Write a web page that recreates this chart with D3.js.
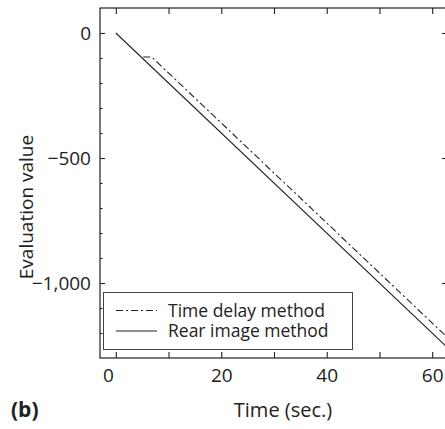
<!DOCTYPE html>
<html>
<head>
<meta charset="utf-8">
<script src="https://cdn.jsdelivr.net/npm/d3@7"></script>
<style>
  body { margin: 0; background: #fff; }
  svg text { font-family: "Open Sans", "Noto Sans", sans-serif; fill: #222; }
</style>
</head>
<body>
<div id="chart"></div>
<script>
// series: [time (sec.), evaluation value]
const timeDelay = [[5.2, -96], [6.8, -96], [63, -1220]];
const rearImage = [[0, 0], [63, -1260]];

const xTicks = [0, 10, 20, 30, 40, 50, 60];
const xLabels = [0, 20, 40, 60];
const yMajor = [0, -500, -1000];
const yMinor = [-100, -200, -300, -400, -600, -700, -800, -900, -1100, -1200];

const legendItems = [
    { name: "Time delay method", dash: "7,3,2,3" },
    { name: "Rear image method", dash: null }
];

const width = 445, height = 429;
const svg = d3.select("#chart").append("svg")
    .attr("width", width)
    .attr("height", height);

const plot = { left: 100, top: 8, right: 448, bottom: 358 };

const x = d3.scaleLinear().domain([-3, 63]).range([plot.left, plot.right]);
const y = d3.scaleLinear().domain([-1300, 100]).range([plot.bottom, plot.top]);

const ink = "#222";
const fmt = d => d === 0 ? "0" : d3.format(",")(d).replace("-", "\u2212");

// clip for series
svg.append("clipPath").attr("id", "clip")
    .append("rect")
    .attr("x", plot.left).attr("y", plot.top)
    .attr("width", plot.right - plot.left).attr("height", plot.bottom - plot.top);

// frame
svg.append("rect")
    .attr("x", plot.left).attr("y", plot.top)
    .attr("width", plot.right - plot.left).attr("height", plot.bottom - plot.top)
    .attr("fill", "none").attr("stroke", ink).attr("stroke-width", 1.2);

// bottom axis, ticks inward
const axBottom = svg.append("g").attr("transform", `translate(0,${plot.bottom})`)
    .call(d3.axisBottom(x).tickValues(xTicks).tickSizeInner(-6).tickSizeOuter(0)
        .tickFormat(d => xLabels.includes(d) ? d : ""));
axBottom.select(".domain").remove();
axBottom.selectAll("text").attr("dy", 0).attr("y", 24).attr("font-size", 19)
    .attr("dx", d => d === 0 ? -8 : 0);

// top axis
const axTop = svg.append("g").attr("transform", `translate(0,${plot.top})`)
    .call(d3.axisTop(x).tickValues(xTicks).tickSizeInner(-6).tickSizeOuter(0).tickFormat(""));
axTop.select(".domain").remove();

// left axis: major and minor ticks inward
const axLeft = svg.append("g").attr("transform", `translate(${plot.left},0)`)
    .call(d3.axisLeft(y).tickValues(yMajor).tickSizeInner(-5).tickSizeOuter(0).tickFormat(fmt));
axLeft.select(".domain").remove();
axLeft.selectAll("text").attr("x", -9).attr("font-size", 19);

const axLeftMinor = svg.append("g").attr("transform", `translate(${plot.left},0)`)
    .call(d3.axisLeft(y).tickValues(yMinor).tickSizeInner(-2.5).tickSizeOuter(0).tickFormat(""));
axLeftMinor.select(".domain").remove();

// right axis
const axRight = svg.append("g").attr("transform", `translate(${plot.right},0)`)
    .call(d3.axisRight(y).tickValues(yMajor).tickSizeInner(-6).tickSizeOuter(0).tickFormat(""));
axRight.select(".domain").remove();

svg.selectAll(".tick line").attr("stroke", ink).attr("stroke-width", 1.1);
svg.selectAll(".tick text").attr("fill", ink).attr("font-family", "\"Open Sans\", sans-serif");

// series
const line = d3.line().x(d => x(d[0])).y(d => y(d[1]));
const series = svg.append("g").attr("clip-path", "url(#clip)");
series.append("path").datum(timeDelay)
    .attr("d", line).attr("fill", "none")
    .attr("stroke", ink).attr("stroke-width", 1.1).attr("stroke-dasharray", legendItems[0].dash);
series.append("path").datum(rearImage)
    .attr("d", line).attr("fill", "none")
    .attr("stroke", ink).attr("stroke-width", 1.1);

// legend
const legend = svg.append("g");
legend.append("rect")
    .attr("x", 103.5).attr("y", 292.5).attr("width", 249).attr("height", 57)
    .attr("fill", "#fff").attr("stroke", "#444").attr("stroke-width", 1);
legendItems.forEach((item, i) => {
    const ly = 310.5 + i * 20.5;
    legend.append("line")
        .attr("x1", 116).attr("x2", 157).attr("y1", ly).attr("y2", ly)
        .attr("stroke", ink).attr("stroke-width", 1.1)
        .attr("stroke-dasharray", item.dash);
    legend.append("text")
        .attr("x", 168).attr("y", ly).attr("dy", "0.35em")
        .attr("font-size", 17.5).text(item.name);
});

// axis titles
svg.append("text")
    .attr("x", 283).attr("y", 417)
    .attr("text-anchor", "middle").attr("font-size", 20)
    .text("Time (sec.)");

svg.append("text")
    .attr("transform", "translate(33,207) rotate(-90)")
    .attr("text-anchor", "middle").attr("font-size", 19)
    .text("Evaluation value");

svg.append("text")
    .attr("x", 11).attr("y", 417)
    .attr("font-size", 21).attr("font-weight", "bold")
    .text("(b)");
</script>
</body>
</html>
